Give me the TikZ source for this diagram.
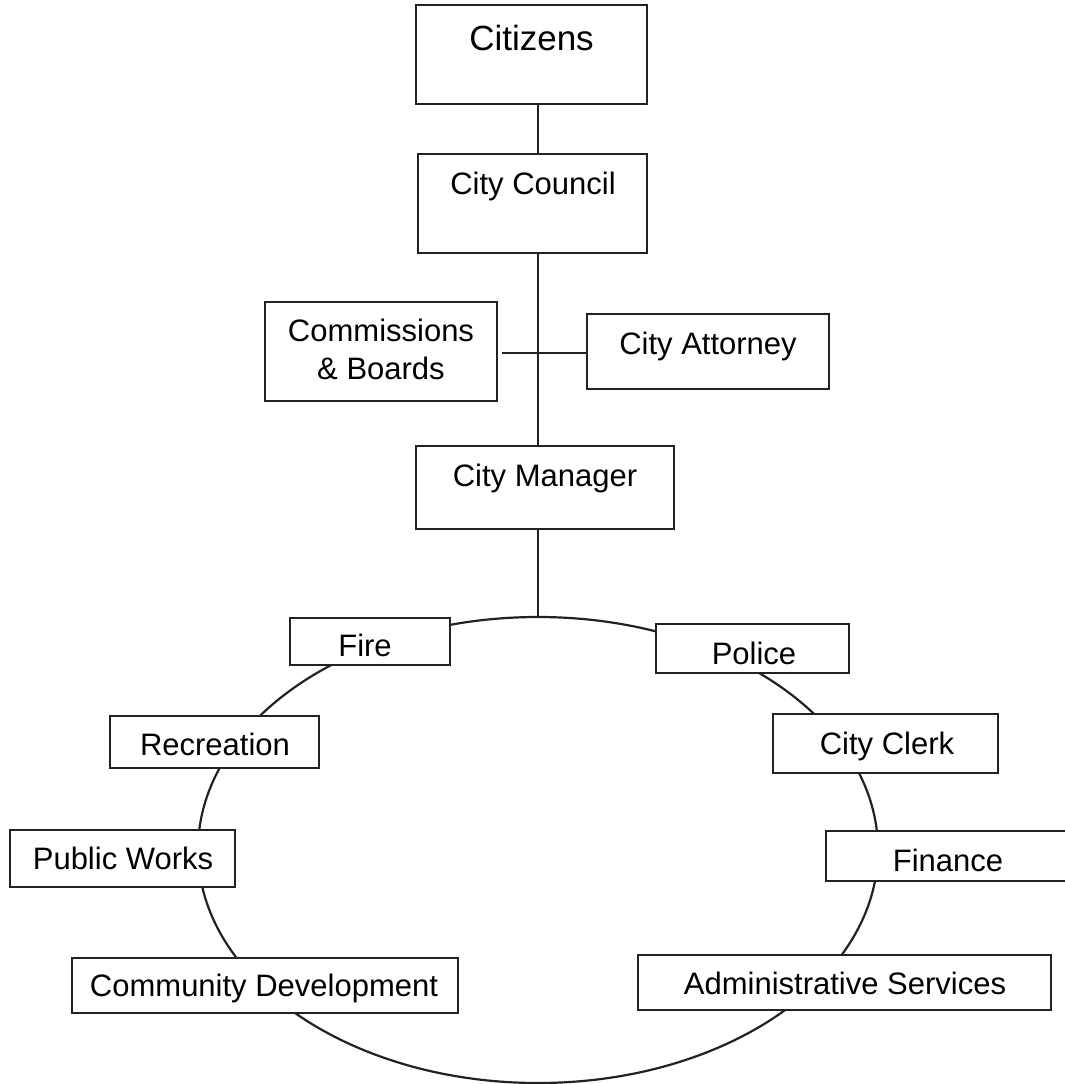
\documentclass[tikz,border=0pt]{standalone}
\usepackage{fontspec}
\setmainfont{Liberation Sans}
\usetikzlibrary{shapes.geometric}
\definecolor{ink}{HTML}{222222}
\begin{document}
\begin{tikzpicture}[x=1pt,y=-1pt,
  box/.style={draw=ink, line width=2.2pt, fill=white, rectangle, inner sep=0pt},
  txt/.style={anchor=base, inner sep=0pt, font=\fontsize{31}{38}\selectfont},
  link/.style={draw=ink, line width=2.2pt}]
\path[use as bounding box, clip] (0,0) rectangle (1065,1084);
\fill[white] (0,0) rectangle (1065,1084);

% ring of departments
\node[draw=ink, line width=2.2pt, ellipse, inner sep=0pt,
      minimum width=680pt, minimum height=466pt] (ring) at (538,850) {};
\coordinate (spine) at (538,0);

% governing chain
\node[box, minimum width=231pt, minimum height=99pt] (cit) at (531.5,54.5) {};
\node[txt, font=\fontsize{35}{40}\selectfont] (citT) at (531.5,50) {Citizens};
\node[box, minimum width=229pt, minimum height=99pt] (cc) at (532.5,203.5) {};
\node[txt] (ccT) at (533,194) {City Council};
\node[box, minimum width=232pt, minimum height=99pt] (cb) at (381,351.5) {};
\node[txt, anchor=center, align=center] (cbT) at (381,349) {Commissions\\\& Boards};
\node[box, minimum width=242pt, minimum height=75pt] (ca) at (708,351.5) {};
\node[txt] (caT) at (708,354) {City Attorney};
\node[box, minimum width=258pt, minimum height=83pt] (cm) at (545,487.5) {};
\node[txt] (cmT) at (545,486) {City Manager};

\draw[link] (cit.south -| spine) -- (cc.north -| spine);
\draw[link] (cc.south -| spine) -- (cm.north -| spine);
\draw[link] ([xshift=4pt,yshift=-1.5pt]cb.east |- ca.west) -- ([yshift=-1.5pt]ca.west);
\draw[link] (cm.south -| ring.north) -- (ring.north);

% departments
\node[box, minimum width=160pt, minimum height=47pt] (fire) at (370,641.5) {};
\node[txt] (fireT) at (365,656) {Fire};
\node[box, minimum width=193pt, minimum height=49pt] (pol) at (752.5,648.5) {};
\node[txt] (polT) at (754,664) {Police};
\node[box, minimum width=209pt, minimum height=52pt] (rec) at (214.5,742) {};
\node[txt] (recT) at (215,755) {Recreation};
\node[box, minimum width=225pt, minimum height=59pt] (clk) at (885.5,743.5) {};
\node[txt] (clkT) at (887,754) {City Clerk};
\node[box, minimum width=225pt, minimum height=57pt] (pw) at (122.5,858.5) {};
\node[txt] (pwT) at (123,869) {Public Works};
\node[box, minimum width=244pt, minimum height=50pt] (fin) at (948,856) {};
\node[txt] (finT) at (948,871) {Finance};
\node[box, minimum width=386pt, minimum height=55pt] (cd) at (265,985.5) {};
\node[txt] (cdT) at (264,996) {Community Development};
\node[box, minimum width=413pt, minimum height=55pt] (as) at (844.5,982.5) {};
\node[txt] (asT) at (845,994) {Administrative Services};
\end{tikzpicture}
\end{document}
